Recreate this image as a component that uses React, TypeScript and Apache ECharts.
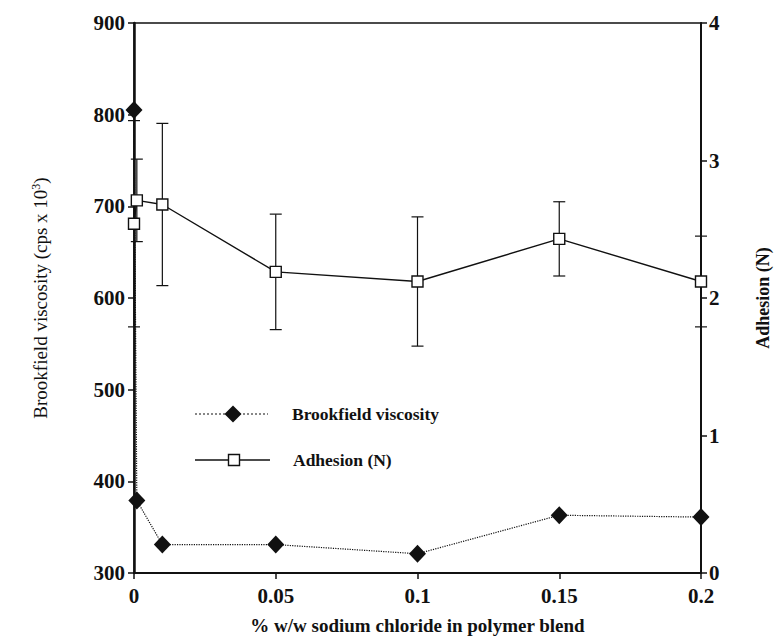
import React, { useEffect, useRef } from "react";
import * as echarts from "echarts";

const xValues = [0, 0.001, 0.01, 0.05, 0.1, 0.15, 0.2];
const viscosity = [805, 379, 331, 331, 321, 363, 361];
const adhesionMean = [2.54, 2.71, 2.68, 2.19, 2.12, 2.43, 2.12];
const adhesionSD = [0.75, 0.3, 0.59, 0.42, 0.47, 0.27, 0.33];
const legendNames = ["Brookfield viscosity", "Adhesion (N)"];

const FONT = "'Liberation Serif', 'Times New Roman', serif";
const INK = "#111";

export default function App() {
  const ref = useRef<HTMLDivElement>(null);
  useEffect(() => {
    document.body.style.margin = "0";
    if (!ref.current) return;
    const chart = echarts.init(ref.current, undefined, { renderer: "svg" });

    const viscData = xValues.map((x, i) => [x, viscosity[i]]);
    const adhData = xValues.map((x, i) => [x, adhesionMean[i]]);
    const errData = xValues.map((x, i) => [
      x,
      adhesionMean[i] - adhesionSD[i],
      adhesionMean[i] + adhesionSD[i],
    ]);

    const axisLabel = {
      color: INK,
      fontFamily: FONT,
      fontSize: 21,
      fontWeight: "bold" as const,
    };

    chart.setOption({
      animation: false,
      backgroundColor: "#fff",
      grid: {
        left: 134,
        right: 77,
        top: 23,
        bottom: 70,
        show: true,
        borderColor: INK,
        borderWidth: 1.5,
        backgroundColor: "transparent",
      },
      xAxis: {
        type: "value",
        min: 0,
        max: 0.2,
        interval: 0.05,
        splitLine: { show: false },
        axisLine: { show: true, lineStyle: { color: INK, width: 2 } },
        axisTick: { show: true, length: 6, lineStyle: { color: INK, width: 1.5 } },
        axisLabel: { ...axisLabel, margin: 12 },
        name: "% w/w sodium chloride in polymer blend",
        nameLocation: "middle",
        nameGap: 43,
        nameTextStyle: {
          color: INK,
          fontFamily: FONT,
          fontSize: 19,
          fontWeight: "bold",
        },
      },
      yAxis: [
        {
          type: "value",
          min: 300,
          max: 900,
          interval: 100,
          position: "left",
          splitLine: { show: false },
          axisLine: { show: true, lineStyle: { color: INK, width: 2.5 } },
          axisTick: { show: true, length: 6, lineStyle: { color: INK, width: 1.5 } },
          axisLabel: { ...axisLabel, margin: 9 },
          name: "{a|Brookfield viscosity (cps x 10}{s|3}{a|)}",
          nameLocation: "middle",
          nameRotate: 90,
          nameGap: 83,
          nameTextStyle: {
            color: INK,
            fontFamily: FONT,
            fontSize: 19,
            rich: {
              a: { fontFamily: FONT, fontSize: 19, color: INK },
              s: { fontFamily: FONT, fontSize: 12, color: INK, verticalAlign: "top", padding: [0, 0, 9, 0] },
            },
          },
        },
        {
          type: "value",
          min: 0,
          max: 4,
          interval: 1,
          position: "right",
          splitLine: { show: false },
          axisLine: { show: true, lineStyle: { color: INK, width: 2 } },
          axisTick: { show: true, length: 6, lineStyle: { color: INK, width: 1.5 } },
          axisLabel: { ...axisLabel, margin: 8 },
          name: "Adhesion (N)",
          nameLocation: "middle",
          nameRotate: 90,
          nameGap: 53,
          nameTextStyle: {
            color: INK,
            fontFamily: FONT,
            fontSize: 18,
            fontWeight: "bold",
          },
        },
      ],
      series: [
        {
          type: "custom",
          name: "error",
          xAxisIndex: 0,
          yAxisIndex: 1,
          z: 1,
          silent: true,
          encode: { x: 0, y: [1, 2] },
          data: errData,
          renderItem: (params: any, api: any) => {
            const x = api.value(0);
            const lo = api.coord([x, api.value(1)]);
            const hi = api.coord([x, api.value(2)]);
            const hw = 6;
            const style = { stroke: INK, lineWidth: 1.2 };
            return {
              type: "group",
              children: [
                { type: "line", shape: { x1: lo[0], y1: lo[1], x2: hi[0], y2: hi[1] }, style },
                { type: "line", shape: { x1: lo[0] - hw, y1: lo[1], x2: lo[0] + hw, y2: lo[1] }, style },
                { type: "line", shape: { x1: hi[0] - hw, y1: hi[1], x2: hi[0] + hw, y2: hi[1] }, style },
              ],
            };
          },
        },
        {
          type: "line",
          name: legendNames[0],
          xAxisIndex: 0,
          yAxisIndex: 0,
          z: 3,
          data: viscData,
          symbol: "diamond",
          symbolSize: [17, 18],
          showAllSymbol: true,
          lineStyle: { color: INK, width: 1.2, type: "dotted" },
          itemStyle: { color: INK },
        },
        {
          type: "line",
          name: legendNames[1],
          xAxisIndex: 0,
          yAxisIndex: 1,
          z: 4,
          data: adhData,
          symbol: "rect",
          symbolSize: 11,
          showAllSymbol: true,
          lineStyle: { color: INK, width: 1.4, type: "solid" },
          itemStyle: { color: "#fff", borderColor: INK, borderWidth: 1.4 },
        },
      ],
      graphic: [
        {
          type: "line",
          shape: { x1: 195, y1: 414, x2: 268, y2: 414 },
          style: { stroke: INK, lineWidth: 1.2, lineDash: [2, 2] },
        },
        {
          type: "polygon",
          shape: { points: [[233, 405.5], [241.5, 414], [233, 422.5], [224.5, 414]] },
          style: { fill: INK },
        },
        {
          type: "text",
          x: 292,
          y: 414,
          style: {
            text: legendNames[0],
            fontFamily: FONT,
            fontSize: 17.5,
            fontWeight: "bold",
            fill: INK,
            verticalAlign: "middle",
          },
        },
        {
          type: "line",
          shape: { x1: 195, y1: 460, x2: 270, y2: 460 },
          style: { stroke: INK, lineWidth: 1.3 },
        },
        {
          type: "rect",
          shape: { x: 228.5, y: 454.5, width: 11, height: 11 },
          style: { fill: "#fff", stroke: INK, lineWidth: 1.4 },
        },
        {
          type: "text",
          x: 293,
          y: 460,
          style: {
            text: legendNames[1],
            fontFamily: FONT,
            fontSize: 17.5,
            fontWeight: "bold",
            fill: INK,
            verticalAlign: "middle",
          },
        },
      ],
    });

    return () => chart.dispose();
  }, []);

  return <div ref={ref} style={{ width: 780, height: 643 }} />;
}
